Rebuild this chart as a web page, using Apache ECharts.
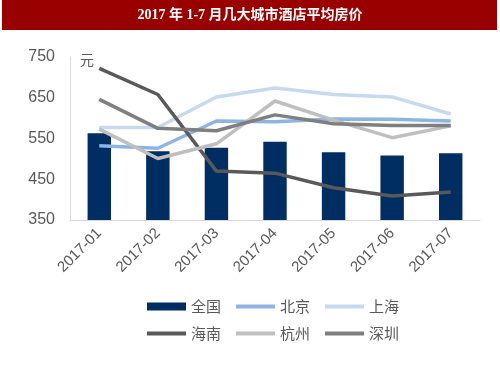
<!DOCTYPE html>
<html><head><meta charset="utf-8">
<script src="https://cdn.jsdelivr.net/npm/echarts@6/dist/echarts.min.js"></script>
<style>html,body{margin:0;padding:0;background:#fff}#c{width:500px;height:375px}</style>
</head><body><div id="c"></div>
<script>
const categories = ['2017-01','2017-02','2017-03','2017-04','2017-05','2017-06','2017-07'];
const national = [563, 519, 527, 542, 516, 508, 514];
const beijing = [532, 526, 593, 591, 598, 597, 593];
const shanghai = [577, 577, 652, 674, 658, 652, 610];
const hainan = [722, 658, 470, 465, 429, 409, 419];
const hangzhou = [573, 501, 537, 642, 595, 552, 581];
const shenzhen = [646, 575, 569, 608, 586, 582, 582];
const yTicks = {min: 350, max: 750, interval: 100};

const chart = echarts.init(document.getElementById('c'), null, {renderer: 'canvas'});
const txt = '#595959';
const lineIcon = 'path://M0,0H39V4H0Z';
function line(name, data, color) {
  return {name, type: 'line', data, symbol: 'none', smooth: false,
    lineStyle: {color, width: 3.5}, itemStyle: {color}, z: 3};
}
function legend(top, data) {
  return {left: 147, top, padding: 0, itemWidth: 39, itemHeight: 8, itemGap: 15, symbolKeepAspect: true,
    textStyle: {color: txt, fontSize: 15, fontFamily: 'Noto Sans CJK SC'}, data};
}
chart.setOption({
  animation: false,
  graphic: [
    {type: 'rect', shape: {x: 2, y: 0, width: 495, height: 30}, style: {fill: '#990000'}, z: 0},
    {type: 'text', x: 250, y: 15, style: {text: '2017 年 1-7 月几大城市酒店平均房价', fill: '#fff',
      font: 'bold 14px "Liberation Serif", "Noto Sans CJK SC"', align: 'center', verticalAlign: 'middle'}},
    {type: 'text', x: 87, y: 60, style: {text: '元', fill: txt, font: '14px "Noto Sans CJK SC"', align: 'center', verticalAlign: 'middle'}, z: 10}
  ],
  grid: {left: 70, right: 20, top: 57, bottom: 155, containLabel: false},
  xAxis: {type: 'category', data: categories,
    axisLine: {lineStyle: {color: '#d9d9d9', width: 1}}, axisTick: {show: false},
    axisLabel: {rotate: 45, color: txt, fontSize: 15, fontFamily: 'Liberation Sans, Arial', margin: 11, interval: 0}},
  yAxis: {type: 'value', min: yTicks.min, max: yTicks.max, interval: yTicks.interval,
    axisLine: {show: true, lineStyle: {color: '#d9d9d9', width: 1}}, axisTick: {show: false},
    splitLine: {show: false},
    axisLabel: {color: txt, fontSize: 16, fontFamily: 'Liberation Sans, Arial', margin: 15}},
  legend: [
    legend(299, [{name: '全国', icon: 'rect'}, {name: '北京', icon: lineIcon}, {name: '上海', icon: lineIcon}]),
    legend(326, [{name: '海南', icon: lineIcon}, {name: '杭州', icon: lineIcon}, {name: '深圳', icon: lineIcon}])
  ],
  series: [
    {name: '全国', type: 'bar', data: national, barWidth: '40%', itemStyle: {color: '#002E62'}, z: 2},
    line('北京', beijing, '#8DB4E2'),
    line('上海', shanghai, '#C6D9F1'),
    line('海南', hainan, '#595959'),
    line('杭州', hangzhou, '#BFBFBF'),
    line('深圳', shenzhen, '#7F7F7F')
  ]
});
</script></body></html>
